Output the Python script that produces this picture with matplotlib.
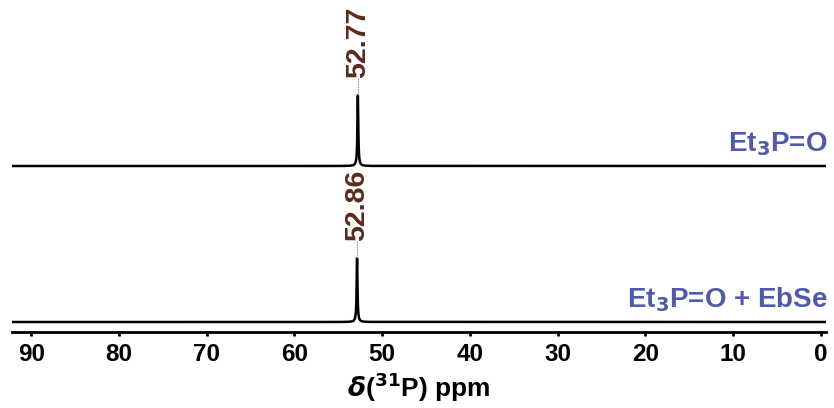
import numpy as np
import matplotlib.pyplot as plt
from matplotlib import font_manager

# regular-width Liberation Sans Bold, taken by file name
bold_path = None
for f in list(font_manager.fontManager.ttflist):
    base = f.fname.split('/')[-1]
    if base == 'LiberationSans-Bold.ttf':
        bold_path = f.fname
        break
if bold_path:
    bold_fp = font_manager.FontProperties(fname=bold_path)
else:
    bold_fp = font_manager.FontProperties(family='Liberation Sans', weight='bold')

plt.rcParams['mathtext.fontset'] = 'custom'
plt.rcParams['mathtext.rm'] = 'Liberation Sans:bold'
plt.rcParams['mathtext.bf'] = 'Liberation Sans:bold'
plt.rcParams['mathtext.it'] = 'Liberation Sans:italic:bold'

# Spectra: peak shift (ppm), relative peak height, vertical offset
names = [r'Et$_\mathbf{3}$P=O', r'Et$_\mathbf{3}$P=O + EbSe']
shifts = [52.77, 52.86]
heights = [71, 64]
offsets = [166, 10]
linewidth_ppm = 0.12

ticks = [90, 80, 70, 60, 50, 40, 30, 20, 10, 0]

ppm = np.linspace(-1, 93, 9400)

fig = plt.figure(figsize=(8.34, 4.08), dpi=100)
ax = fig.add_axes([12 / 834, 76 / 408, 814 / 834, 332 / 408])

label_color = '#5a2a1c'
name_color = '#4f5aa8'

def fp(size):
    p = bold_fp.copy()
    p.set_size(size)
    return p

for name, shift, h, off in zip(names, shifts, heights, offsets):
    g = linewidth_ppm / 2
    y = off + h * g**2 / ((ppm - shift)**2 + g**2)
    ax.plot(ppm, y, color='black', lw=1.8)
    top = off + h
    # thin leader from peak top to the shift label
    ax.plot([shift, shift], [top, top + 17], color='#888888', lw=0.6, ls=(0, (2, 1)))
    ax.text(shift, top + 17, f'{shift:.2f}', rotation=90, ha='center', va='bottom',
            color=label_color, fontproperties=fp(20.5))
    ax.text(-0.8, off + 15, name, ha='right', va='baseline', color=name_color,
            fontproperties=fp(20))

ax.set_xlim(92.2, -0.6)
ax.set_ylim(0, 332)
ax.set_yticks([])
ax.set_xticks(ticks)
ax.set_xticklabels([str(t) for t in ticks], fontproperties=fp(17.5))
ax.tick_params(axis='x', direction='out', length=3, width=2, pad=5)
for side in ['top', 'left', 'right']:
    ax.spines[side].set_visible(False)
ax.spines['bottom'].set_linewidth(2)

ax.set_xlabel(r'$\boldsymbol{\delta}$($^{\mathbf{31}}$P) ppm', fontproperties=fp(19), labelpad=3)

fig.savefig('out.png', dpi=100)
